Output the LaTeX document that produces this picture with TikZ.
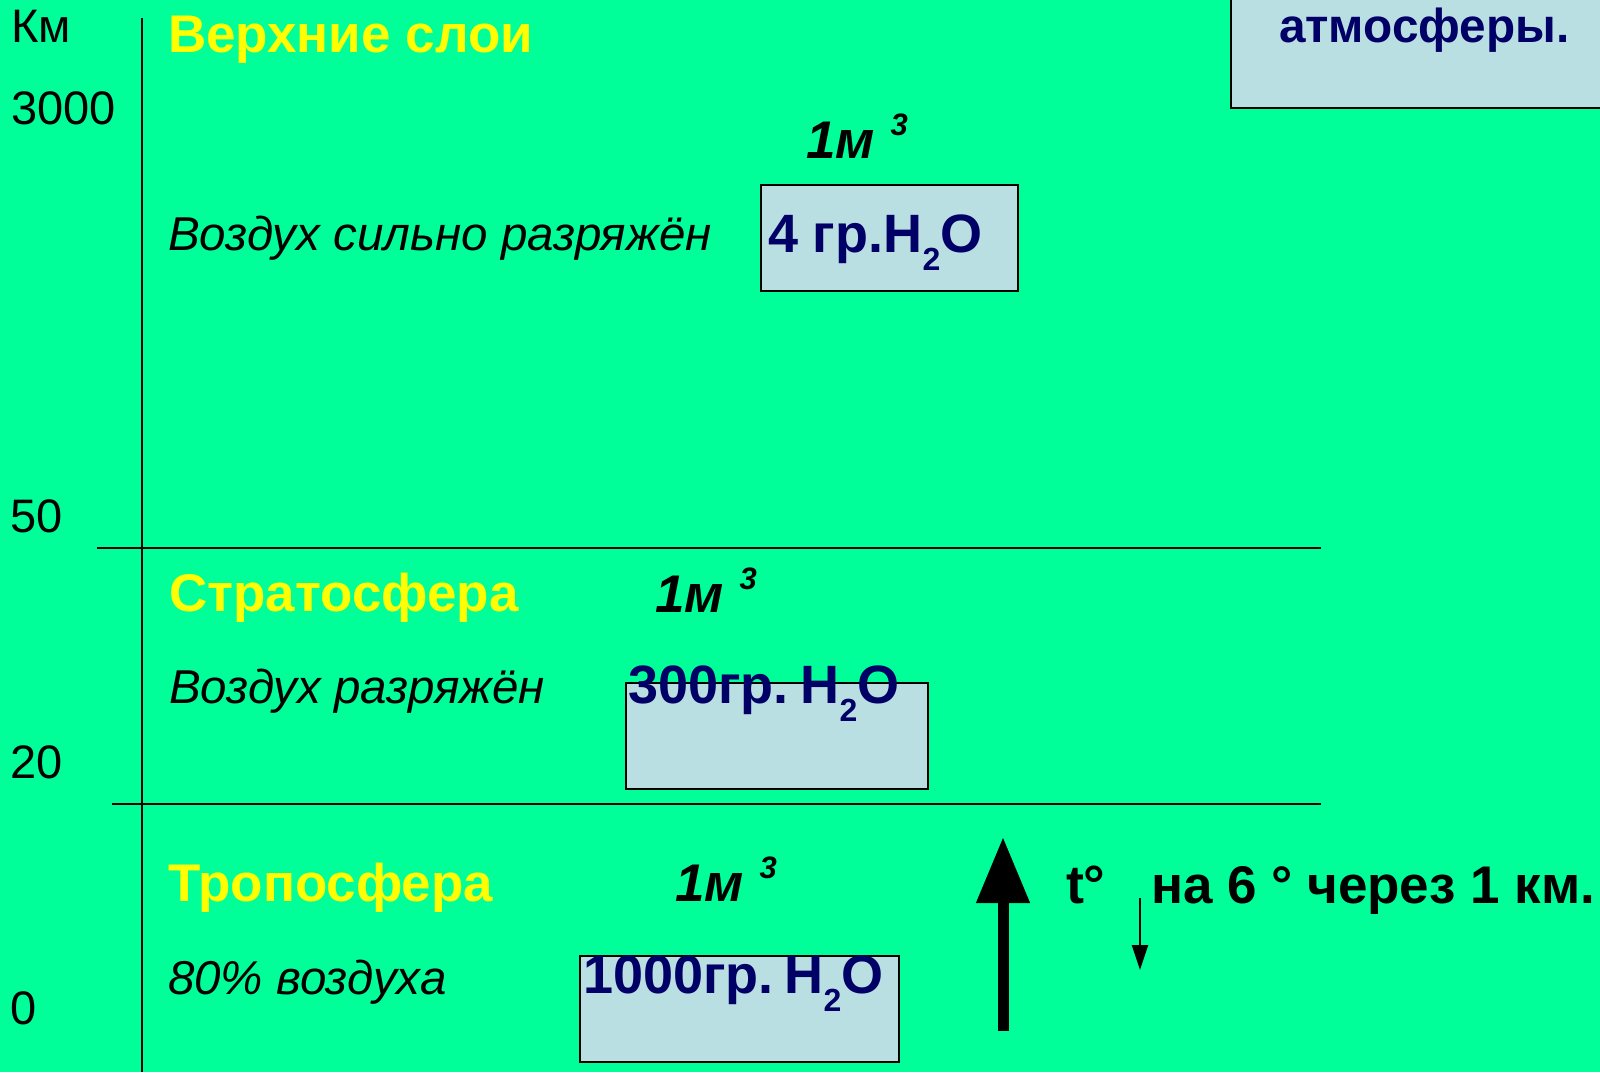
\documentclass[tikz,border=0pt]{standalone}
\usepackage{fontspec}
\setmainfont{Liberation Sans}
\usetikzlibrary{arrows.meta}
\definecolor{bg}{RGB}{0,255,153}
\definecolor{ylw}{RGB}{255,255,0}
\definecolor{navy}{RGB}{0,0,102}
\definecolor{boxfill}{RGB}{185,223,227}
\newcommand{\fsz}[1]{\fontsize{#1}{#1}\selectfont}
\newcommand{\cube}{1м\hspace{16pt}\raisebox{23pt}{\fsz{31}3}}
\newcommand{\water}[1]{#1\raisebox{-18pt}{\fsz{32}2}O}
\begin{document}
\begin{tikzpicture}[x=1pt,y=-1pt,
  every node/.style={inner sep=0pt,outer sep=0pt,anchor=base west},
  axnum/.style={font=\fsz{47}},
  layer/.style={font=\fsz{53}\bfseries,text=ylw},
  descr/.style={font=\fsz{47.5}\itshape},
  vol/.style={font=\fsz{53}\bfseries\itshape},
  wbox/.style={draw=black,line width=2pt,fill=boxfill,anchor=north west},
  wtext/.style={font=\fsz{54}\bfseries,text=navy},
  rule/.style={line width=2pt}]
\useasboundingbox (0,0) rectangle (1600,1072);
\fill[bg] (0,0) rectangle (1600,1072);
% top-right box
\node[wbox,minimum width=380pt,minimum height=120pt,anchor=south west] (tr) at (1231,108) {};
\node[wtext,font=\fsz{47.7}\bfseries] (atm) at (1279,42) {атмосферы.};
% axis
\coordinate (axtop) at (142,18);
\coordinate (axbot) at (142,1072);
\draw[rule] (axtop) -- (axbot);
\coordinate (l1a) at (97,548);
\coordinate (l1b) at (1321,548);
\coordinate (l2a) at (112,804);
\coordinate (l2b) at (1321,804);
\draw[rule] (l1a) -- (l1b);
\draw[rule] (l2a) -- (l2b);
% axis labels
\node[axnum] (km) at (11,42) {Км};
\node[axnum] (a3000) at (11,124) {3000};
\node[axnum] (a50) at (10,532) {50};
\node[axnum] (a20) at (10,778) {20};
\node[axnum] (a0) at (10,1024) {0};
% upper layer
\node[layer] (up) at (168,52) {Верхние слои};
\node[vol] (v1) at (806,158) {\cube};
\node[descr] (d1) at (168,250) {Воздух сильно разряжён};
\node[wbox,minimum width=257pt,minimum height=106pt] (b1) at (761,185) {};
\node[wtext] (w1) at (768,252) {\water{4 гр.H}};
% stratosphere
\node[layer] (strat) at (169,611) {Стратосфера};
\node[vol] (v2) at (655,612) {\cube};
\node[descr] (d2) at (169,703) {Воздух разряжён};
\node[wbox,minimum width=302pt,minimum height=106pt] (b2) at (626,683) {};
\node[wtext] (w2) at (628,703) {\water{300гр.\hspace{12pt}H}};
% troposphere
\node[layer] (trop) at (168,901) {Тропосфера};
\node[vol] (v3) at (675,901) {\cube};
\node[descr] (d3) at (168,994) {80\% воздуха};
\node[wbox,minimum width=319pt,minimum height=106pt] (b3) at (580,956) {};
\node[wtext] (w3) at (583,993) {\water{1000гр.\hspace{11pt}H}};
% temperature
\coordinate (bigbot) at (1003,1031);
\coordinate (bigtop) at (1003,837);
\draw[line width=11pt,-{Triangle[length=66pt,width=51pt]}] (bigbot) -- (bigtop);
\node[font=\fsz{54}\bfseries] (t) at (1066,903) {t°};
\coordinate (smtop) at (1140,898);
\coordinate (smbot) at (1140,970);
\draw[line width=2pt,-{Triangle[length=25pt,width=16pt]}] (smtop) -- (smbot);
\node[font=\fsz{53}\bfseries] (rate) at (1151,903) {на 6 ° через 1 км.};
\end{tikzpicture}
\end{document}
